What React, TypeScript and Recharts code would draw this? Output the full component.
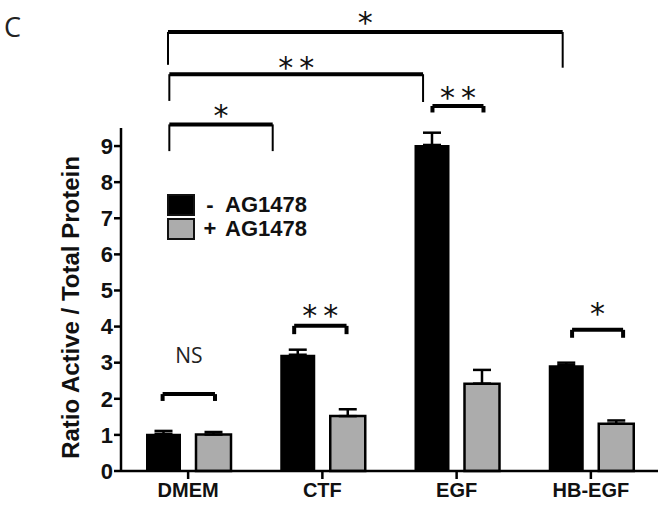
import React from 'react';
import {
  BarChart,
  Bar,
  XAxis,
  YAxis,
  ErrorBar,
  Legend,
  ReferenceLine,
  ReferenceDot,
  Label,
} from 'recharts';

// ---- data ----
const categories = ['DMEM', 'CTF', 'EGF', 'HB-EGF'];
const categoryCenters = [0.5, 1.5, 2.5, 3.5];
const seriesNames = ['- AG1478', '+ AG1478'];
const minusValues = [1.03, 3.22, 9.03, 2.93];
const minusErrors = [0.08, 0.14, 0.34, 0.07];
const plusValues = [1.01, 1.52, 2.42, 1.31];
const plusErrors = [0.07, 0.19, 0.38, 0.09];
const yTicks = [0, 1, 2, 3, 4, 5, 6, 7, 8, 9];
const yDomain = [0, 9.5];
const panelLetter = 'C';
const yAxisTitle = 'Ratio Active / Total Protein';

// significance brackets (x in category units 0..4, y in data units)
const bracketLabels = ['*', '**', '**', '*', 'NS', '**', '*'];
const bracketX1 = [0.35, 0.36, 2.32, 0.36, 0.31, 1.29, 3.36];
const bracketX2 = [3.29, 2.25, 2.7, 1.13, 0.7, 1.68, 3.74];
const bracketY = [12.16, 10.99, 10.11, 9.6, 2.13, 4.02, 3.91];
const bracketLegY1 = [11.25, 10.25, 9.93, 8.86, 1.94, 3.79, 3.69];
const bracketLegY2 = [11.17, 10.22, 9.93, 8.86, 1.94, 3.79, 3.69];
const bracketTextY = [12.6, 11.35, 10.52, 10.02, 3.21, 4.49, 4.55];

const data = categories.map((c, i) => ({
  cat: c,
  pos: categoryCenters[i],
  minus: minusValues[i],
  minusErr: [0, minusErrors[i]],
  plus: plusValues[i],
  plusErr: [0, plusErrors[i]],
}));

const BOLD = '"Liberation Sans", Arial, sans-serif';
const LIGHT = '"Open Sans", "Noto Sans", sans-serif';
const INK = '#111';
const GRAY = '#acacac';

const LegendContent = (props: any) => {
  const payload = [...(props.payload || [])].sort(
    (a: any, b: any) => seriesNames.indexOf(a.value) - seriesNames.indexOf(b.value)
  );
  return (
    <div style={{ fontFamily: BOLD, fontWeight: 'bold', fontSize: 22, color: INK }}>
      {payload.map((p: any, i: number) => {
        const [sign, ...rest] = String(p.value).split(' ');
        return (
          <div key={i} style={{ display: 'flex', alignItems: 'center', height: 24 }}>
            <span
              style={{
                display: 'inline-block',
                width: 28,
                height: 22,
                boxSizing: 'border-box',
                border: '2px solid #111',
                background: i === 0 ? '#000' : GRAY,
              }}
            />
            <span style={{ display: 'inline-block', width: 18, marginLeft: 6, textAlign: 'center' }}>{sign}</span>
            <span style={{ marginLeft: 6, lineHeight: '24px' }}>{rest.join(' ')}</span>
          </div>
        );
      })}
    </div>
  );
};

const YTitle = (props: any) => {
  const vb = props.viewBox || { x: 41, y: 128, width: 80, height: 343 };
  const cx = vb.x + 29;
  const cy = vb.y + vb.height / 2 + 8;
  return (
    <text
      x={cx}
      y={cy}
      transform={`rotate(-90, ${cx}, ${cy})`}
      textAnchor="middle"
      dominantBaseline="central"
      fontFamily={BOLD}
      fontWeight="bold"
      fontSize={24}
      fill={INK}
    >
      {yAxisTitle}
    </text>
  );
};

export default function App() {
  return (
    <div style={{ position: 'absolute', left: 0, top: 0, width: 664, height: 505, background: '#fff' }}>
      <svg style={{ position: 'absolute', left: 0, top: 0 }} width={60} height={60}>
        <text x={4} y={37} fontFamily={LIGHT} fontSize={27} fill="#222">
          {panelLetter}
        </text>
      </svg>
      <BarChart
        width={664}
        height={505}
        data={data}
        margin={{ top: 128, right: 6, bottom: 4, left: 41 }}
        barGap={15}
      >
        <XAxis
          dataKey="cat"
          axisLine={{ stroke: '#000', strokeWidth: 2.5 }}
          tickLine={{ stroke: '#000', strokeWidth: 2.5 }}
          tickSize={8}
          tickMargin={4}
          height={30}
          tick={{ fontFamily: BOLD, fontWeight: 'bold', fontSize: 20, fill: INK }}
        />
        <XAxis xAxisId="n" dataKey="pos" type="number" domain={[0, 4]} hide allowDataOverflow />
        <YAxis
          domain={yDomain}
          ticks={yTicks}
          width={80}
          interval={0}
          axisLine={{ stroke: '#000', strokeWidth: 2.5 }}
          tickLine={{ stroke: '#000', strokeWidth: 2.5 }}
          tickSize={7}
          tickMargin={1}
          tick={{ fontFamily: BOLD, fontWeight: 'bold', fontSize: 22, fill: INK }}
        >
          <Label content={<YTitle />} />
        </YAxis>
        <Legend
          layout="vertical"
          align="center"
          verticalAlign="middle"
          wrapperStyle={{ left: 167, top: 193, width: 'auto' }}
          content={<LegendContent />}
        />
        <Bar dataKey="minus" name={seriesNames[0]} fill="#000" barSize={35} isAnimationActive={false}>
          <ErrorBar dataKey="minusErr" width={9} strokeWidth={2.5} stroke="#000" direction="y" />
        </Bar>
        <Bar
          dataKey="plus"
          name={seriesNames[1]}
          fill={GRAY}
          stroke="#000"
          strokeWidth={2.5}
          barSize={35}
          isAnimationActive={false}
        >
          <ErrorBar dataKey="plusErr" width={9} strokeWidth={2.5} stroke="#000" direction="y" />
        </Bar>
        {bracketLabels.map((lab, i) => {
          const tall = bracketY[i] - bracketLegY1[i] > 0.5;
          const legW = tall ? 2 : 4;
          return (
            <React.Fragment key={`b${i}`}>
              <ReferenceLine
                xAxisId="n"
                ifOverflow="visible"
                segment={[
                  { x: bracketX1[i], y: bracketY[i] },
                  { x: bracketX2[i], y: bracketY[i] },
                ]}
                stroke="#000"
                strokeWidth={4}
              />
              <ReferenceLine
                xAxisId="n"
                ifOverflow="visible"
                segment={[
                  { x: bracketX1[i], y: bracketY[i] },
                  { x: bracketX1[i], y: bracketLegY1[i] },
                ]}
                stroke="#000"
                strokeWidth={legW}
              />
              <ReferenceLine
                xAxisId="n"
                ifOverflow="visible"
                segment={[
                  { x: bracketX2[i], y: bracketY[i] },
                  { x: bracketX2[i], y: bracketLegY2[i] },
                ]}
                stroke="#000"
                strokeWidth={legW}
              />
              <ReferenceDot
                xAxisId="n"
                ifOverflow="visible"
                x={(bracketX1[i] + bracketX2[i]) / 2}
                y={bracketTextY[i]}
                r={0}
                shape={(p: any) =>
                  lab === 'NS' ? (
                    <text
                      x={p.cx}
                      y={p.cy + 7.5}
                      textAnchor="middle"
                      fontFamily={LIGHT}
                      fontSize={21}
                      fill="#222"
                    >
                      {lab}
                    </text>
                  ) : (
                    <text
                      x={p.cx + (lab.length > 1 ? 3 : 0)}
                      y={p.cy + 17}
                      textAnchor="middle"
                      fontFamily='"DejaVu Sans", sans-serif'
                      fontSize={30}
                      letterSpacing={lab.length > 1 ? 6 : 0}
                      fill="#111"
                    >
                      {lab}
                    </text>
                  )
                }
              />
            </React.Fragment>
          );
        })}
      </BarChart>
    </div>
  );
}
